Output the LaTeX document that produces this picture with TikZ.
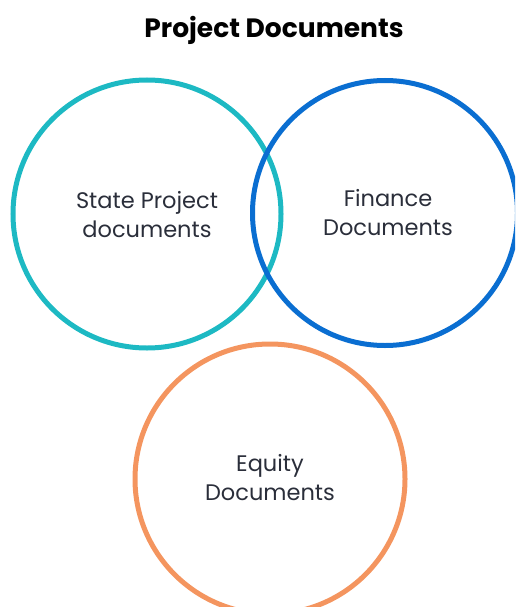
\documentclass[tikz,border=0pt]{standalone}
\usepackage{fontspec}
\setmainfont{Poppins}
\definecolor{teal1}{HTML}{1DB9C3}
\definecolor{blue1}{HTML}{0A6ED1}
\definecolor{orange1}{HTML}{F4955F}
\definecolor{txt}{HTML}{2A2E3A}
\begin{document}
\begin{tikzpicture}[x=1pt,y=-1pt,
  ring/.style={draw=#1,line width=5pt,circle,minimum size=268pt,inner sep=0pt},
  lbl/.style={text=txt,font=\fontsize{22.5}{29}\selectfont,align=center}]
\useasboundingbox (0,0) rectangle (515,607);
\clip (0,0) rectangle (515,607);
\node[text=black,font=\bfseries\fontsize{26.5}{30}\selectfont] (title) at (274,30) {Project Documents};
\node[ring=teal1] (state) at (147,214) {};
\node[ring=blue1,minimum size=265pt] (fin) at (385,213) {};
\node[ring=orange1,minimum size=270pt] (eq) at (270,479) {};
\node[lbl] (statel) at (147,215) {State Project\\documents};
\node[lbl] (finl) at (388,213) {Finance\\Documents};
\node[lbl] (eql) at (270,478) {Equity\\Documents};
\end{tikzpicture}
\end{document}
